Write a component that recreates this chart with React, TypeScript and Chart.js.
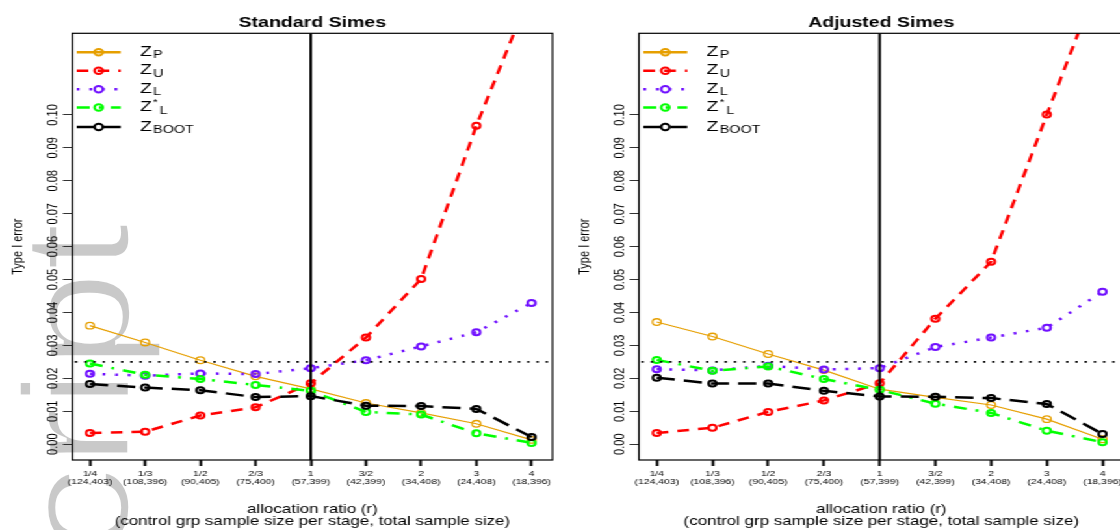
import React, { useEffect, useRef } from 'react';
import { Chart, registerables } from 'chart.js';

Chart.register(...registerables);

// ---------- data ----------
const X_POS = [1, 2, 3, 4, 5, 6, 7, 8, 9];
const RATIOS = ['1/4', '1/3', '1/2', '2/3', '1', '3/2', '2', '3', '4'];
const SAMPLE_SIZES = ['(124,403)', '(108,396)', '(90,405)', '(75,400)', '(57,399)', '(42,399)', '(34,408)', '(24,408)', '(18,396)'];
const Y_TICKS = [0, 0.01, 0.02, 0.03, 0.04, 0.05, 0.06, 0.07, 0.08, 0.09, 0.1];
const Y_TICK_LABELS = ['0.00', '0.01', '0.02', '0.03', '0.04', '0.05', '0.06', '0.07', '0.08', '0.09', '0.10'];
const ALPHA = 0.025;
const REF_X = 5;
const X_MIN = 0.68;
const X_MAX = 9.38;
const Y_MIN = -0.0048;
const Y_MAX = 0.1248;

// Standard Simes
const STD_ZP = [0.036, 0.0309, 0.0255, 0.0206, 0.0168, 0.0125, 0.0095, 0.0062, 0.0013];
const STD_ZU = [0.0034, 0.0038, 0.0087, 0.0112, 0.0185, 0.0324, 0.0502, 0.0967, 0.138];
const STD_ZL = [0.0214, 0.0208, 0.0215, 0.0213, 0.0231, 0.0255, 0.0297, 0.034, 0.0429];
const STD_ZLS = [0.0245, 0.0211, 0.0198, 0.018, 0.0162, 0.0098, 0.009, 0.0033, 0.0004];
const STD_BOOT = [0.0183, 0.0172, 0.0164, 0.0143, 0.0146, 0.0117, 0.0116, 0.0107, 0.0022];

// Adjusted Simes
const ADJ_ZP = [0.0371, 0.0327, 0.0274, 0.0225, 0.0167, 0.0142, 0.0119, 0.0076, 0.0015];
const ADJ_ZU = [0.0034, 0.005, 0.0098, 0.0133, 0.0185, 0.0381, 0.0554, 0.1001, 0.144];
const ADJ_ZL = [0.0228, 0.0224, 0.0238, 0.0227, 0.0231, 0.0295, 0.0324, 0.0354, 0.0463];
const ADJ_ZLS = [0.0256, 0.0223, 0.0236, 0.0198, 0.0165, 0.0123, 0.0095, 0.0041, 0.0006];
const ADJ_BOOT = [0.0202, 0.0184, 0.0184, 0.0162, 0.0145, 0.0144, 0.014, 0.0122, 0.0031];

// ---------- styles ----------
const FONT = "'Liberation Sans', Arial, Helvetica, sans-serif";
const SX = 1.3; // horizontal stretch of the whole figure

type Style = {
  sub: string; sup?: string; color: string; dash: number[]; width: number;
  pr: number; pbw: number; order: number;
};
const STYLES: Style[] = [
  { sub: 'P', color: '#E69F00', dash: [], width: 1.2, pr: 3.3, pbw: 1.3, order: 5 },
  { sub: 'U', color: '#FF0000', dash: [9, 7], width: 2.5, pr: 3, pbw: 2, order: 4 },
  { sub: 'L', color: '#7010FF', dash: [2.2, 7.5], width: 2.5, pr: 3, pbw: 2, order: 3 },
  { sub: 'L', sup: '*', color: '#00FF00', dash: [10, 7, 2.2, 7], width: 2.5, pr: 3, pbw: 2, order: 2 },
  { sub: 'BOOT', color: '#000000', dash: [14, 7], width: 2.5, pr: 3, pbw: 2, order: 1 },
];
const LEGEND_ROWS = [19, 37.4, 56, 74.2, 93.7];

const framePlugin = {
  id: 'frame',
  afterDatasetsDraw(chart: any) {
    const { ctx, chartArea: a, scales } = chart;
    const x = scales.x, y = scales.y;
    ctx.save();
    ctx.beginPath();
    ctx.rect(a.left, a.top, a.right - a.left, a.bottom - a.top);
    ctx.clip();
    const yy = y.getPixelForValue(ALPHA);
    ctx.strokeStyle = '#000';
    ctx.lineWidth = 1.7;
    ctx.setLineDash([1.8, 5.3]);
    ctx.beginPath();
    ctx.moveTo(a.left + 2, yy);
    ctx.lineTo(a.right, yy);
    ctx.stroke();
    const xx = x.getPixelForValue(REF_X);
    ctx.setLineDash([]);
    ctx.lineWidth = 2;
    ctx.beginPath();
    ctx.moveTo(xx, a.top);
    ctx.lineTo(xx, a.bottom);
    ctx.stroke();
    ctx.restore();
    ctx.save();
    ctx.strokeStyle = '#000';
    ctx.lineWidth = 1.2;
    ctx.strokeRect(a.left, a.top, a.right - a.left, a.bottom - a.top);
    ctx.restore();
  },
};

const legendPlugin = {
  id: 'zlegend',
  afterDraw(chart: any) {
    const { ctx, chartArea: a } = chart;
    STYLES.forEach((s, i) => {
      const yy = a.top + LEGEND_ROWS[i];
      ctx.save();
      ctx.strokeStyle = s.color;
      ctx.lineWidth = 2.6;
      ctx.setLineDash(s.dash);
      ctx.beginPath();
      ctx.moveTo(a.left + 3.4, yy);
      ctx.lineTo(a.left + 37.2, yy);
      ctx.stroke();
      ctx.setLineDash([]);
      ctx.lineWidth = 2;
      ctx.beginPath();
      ctx.arc(a.left + 20.3, yy, 3.2, 0, Math.PI * 2);
      ctx.stroke();
      ctx.fillStyle = '#000';
      ctx.textAlign = 'left';
      ctx.textBaseline = 'alphabetic';
      ctx.font = `15px ${FONT}`;
      const zx = a.left + 52.1;
      ctx.fillText('Z', zx, yy + 3.7);
      let sx = zx + ctx.measureText('Z').width + 1;
      if (s.sup) {
        ctx.font = `9px ${FONT}`;
        ctx.fillText(s.sup, sx, yy - 2.5);
        sx += ctx.measureText(s.sup).width + 1.5;
      }
      ctx.font = `11px ${FONT}`;
      ctx.fillText(s.sub, sx, yy + 6);
      ctx.restore();
    });
  },
};

function Panel(props: { title: string; series: number[][]; width: number; padLeft: number; padRight: number }) {
  const ref = useRef<HTMLCanvasElement>(null);
  useEffect(() => {
    Chart.defaults.font.family = FONT;
    Chart.defaults.color = '#000';
    const datasets = props.series.map((vals, k) => {
      const s = STYLES[k];
      return {
        label: 'Z' + s.sub + (s.sup || ''),
        data: X_POS.map((x, i) => ({ x, y: vals[i] })),
        borderColor: s.color,
        borderWidth: s.width,
        borderDash: s.dash,
        pointRadius: s.pr,
        pointBorderWidth: s.pbw,
        pointBorderColor: s.color,
        pointBackgroundColor: 'rgba(0,0,0,0)',
        tension: 0,
        order: s.order,
        clip: 0,
      };
    });
    const chart = new Chart(ref.current as HTMLCanvasElement, {
      type: 'line',
      data: { datasets } as any,
      options: {
        animation: false,
        responsive: false,
        events: [],
        layout: { padding: { left: props.padLeft, right: props.padRight, top: 0, bottom: 0 } },
        plugins: {
          legend: { display: false },
          tooltip: { enabled: false },
          title: {
            display: true,
            text: props.title,
            fullSize: false,
            color: '#000',
            font: { size: 15, weight: 'bold', family: FONT },
            padding: { top: 14.3, bottom: 1 },
          },
        },
        scales: {
          x: {
            type: 'linear',
            min: X_MIN,
            max: X_MAX,
            afterBuildTicks: (sc: any) => { sc.ticks = X_POS.map((v) => ({ value: v })); },
            afterFit: (sc: any) => { sc.height = 70; },
            ticks: {
              autoSkip: false,
              maxRotation: 0,
              minRotation: 0,
              padding: 3.1,
              color: '#000',
              font: { size: 8, lineHeight: 1.05 },
              callback: (_v: any, i: number) => [RATIOS[i], SAMPLE_SIZES[i]],
            },
            grid: { display: true, drawOnChartArea: false, drawTicks: true, tickLength: 6, tickWidth: 2, tickColor: '#000' },
            border: { display: false },
            title: {
              display: true,
              text: ['allocation ratio (r)', '(control grp sample size per stage, total sample size)'],
              color: '#000',
              font: { size: 13, lineHeight: 0.954 },
              padding: { top: 0, bottom: 2.1 },
            },
          },
          y: {
            type: 'linear',
            min: Y_MIN,
            max: Y_MAX,
            afterBuildTicks: (sc: any) => { sc.ticks = Y_TICKS.map((v) => ({ value: v })); },
            afterFit: (sc: any) => { sc.width = 55.6; },
            ticks: {
              autoSkip: false,
              minRotation: 90,
              maxRotation: 90,
              crossAlign: 'center',
              padding: -3,
              color: '#000',
              font: { size: 11 },
              callback: (_v: any, i: number) => Y_TICK_LABELS[i],
            },
            grid: { display: true, drawOnChartArea: false, drawTicks: true, tickLength: 7.2, tickWidth: 1, tickColor: '#333' },
            border: { display: false },
            title: {
              display: true,
              text: 'Type I error',
              color: '#000',
              font: { size: 11 },
              padding: { top: 7.2, bottom: 0 },
            },
          },
        },
      } as any,
      plugins: [framePlugin, legendPlugin],
    });
    return () => chart.destroy();
  }, []);
  return <canvas ref={ref} width={props.width} height={530} style={{ display: 'block' }} />;
}

export default function App() {
  return (
    <div style={{ position: 'absolute', left: 0, top: 0, width: 1120, height: 530, overflow: 'hidden', background: '#fff' }}>
      <svg width={1120} height={530} style={{ position: 'absolute', left: 0, top: 0 }}>
        <text
          x={0}
          y={0}
          transform="translate(129,1083) rotate(-90) scale(1,0.86)"
          fontSize={176}
          fontFamily={FONT}
          fill="#c9c9c9"
          stroke="#ffffff"
          strokeWidth={4}
          style={{ paintOrder: 'fill' } as any}
        >
          Manuscript
        </text>
      </svg>
      <div
        style={{
          position: 'absolute', left: 0, top: 0, width: 871, height: 530,
          display: 'flex', transform: `scaleX(${SX})`, transformOrigin: '0 0',
        }}
      >
        <Panel title="Standard Simes" series={[STD_ZP, STD_ZU, STD_ZL, STD_ZLS, STD_BOOT]} width={431} padLeft={0} padRight={2.3} />
        <Panel title="Adjusted Simes" series={[ADJ_ZP, ADJ_ZU, ADJ_ZL, ADJ_ZLS, ADJ_BOOT]} width={440} padLeft={4.9} padRight={6.6} />
      </div>
    </div>
  );
}
